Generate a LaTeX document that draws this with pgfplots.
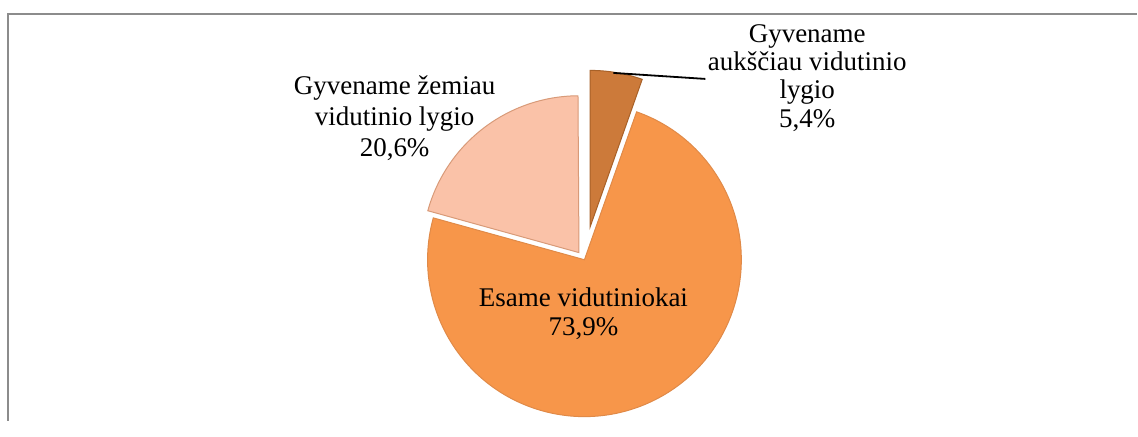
\documentclass[border=0pt]{standalone}
\usepackage{fontspec}
\setmainfont{Liberation Serif}
\usepackage{pgfplots}
\pgfplotsset{compat=1.18}
\definecolor{cDark}{HTML}{CC7A3A}
\definecolor{cDarkE}{HTML}{A86128}
\definecolor{cMain}{HTML}{F7964A}
\definecolor{cMainE}{HTML}{E08A48}
\definecolor{cLight}{HTML}{FAC2A8}
\definecolor{cLightE}{HTML}{D89A78}
\definecolor{frame}{HTML}{8C8C8C}
% slice shares (%)
\def\pA{5.4}  % Gyvename aukščiau vidutinio lygio
\def\pB{73.9} % Esame vidutiniokai
\def\pC{20.6} % Gyvename žemiau vidutinio lygio
\begin{document}
\begin{tikzpicture}
\begin{axis}[
  width=569pt, height=210.5pt, scale only axis,
  xmin=0, xmax=1138, ymin=0, ymax=421,
  hide axis, clip=false,
]
\path (axis cs:0,0) rectangle (axis cs:1138,421);
% frame
\draw[frame, line width=1.1pt] (axis cs:8,0) -- (axis cs:8,407) -- (axis cs:1138,407);
% angles
\pgfmathsetmacro{\aO}{90}
\pgfmathsetmacro{\aA}{90-3.6*\pA}
\pgfmathsetmacro{\aB}{\aA-3.6*\pB}
\pgfmathsetmacro{\aC}{\aB-3.6*\pC}
\pgfmathsetmacro{\mA}{(\aO+\aA)/2}
\pgfmathsetmacro{\mB}{(\aA+\aB)/2}
\pgfmathsetmacro{\mC}{(\aB+\aC)/2}
\def\R{78.5pt}
\path (axis cs:585,161) ++(\mA:16.5pt) coordinate (VA);
\path (axis cs:585,161) coordinate (VB);
\path (axis cs:585,161) ++(\mC:4.5pt) coordinate (VC);
% slices
\filldraw[fill=cMain, draw=cMainE, line width=0.5pt]
  (VB) -- ++(\aA:\R) arc[start angle=\aA, end angle=\aB, radius=\R] -- cycle;
\filldraw[fill=cLight, draw=cLightE, line width=0.5pt]
  (VC) -- ++(\aB:\R) arc[start angle=\aB, end angle=\aC, radius=\R] -- cycle;
\filldraw[fill=cDark, draw=cDarkE, line width=0.5pt]
  (VA) -- ++(\aO:\R) arc[start angle=\aO, end angle=\aA, radius=\R] -- cycle;
% leader line
\draw[black, line width=0.9pt] (axis cs:614,348) -- (axis cs:706,342);
% labels
\node[align=center, font=\fontsize{13.5}{14.2}\selectfont] at (axis cs:808,343)
  {Gyvename\\aukščiau vidutinio\\lygio\\5,4\%};
\node[align=center, font=\fontsize{13.5}{15.5}\selectfont] at (axis cs:395,303)
  {Gyvename žemiau\\vidutinio lygio\\20,6\%};
\node[align=center, font=\fontsize{13.5}{14.5}\selectfont] at (axis cs:584,107)
  {Esame vidutiniokai\\73,9\%};
\end{axis}
\end{tikzpicture}
\end{document}
